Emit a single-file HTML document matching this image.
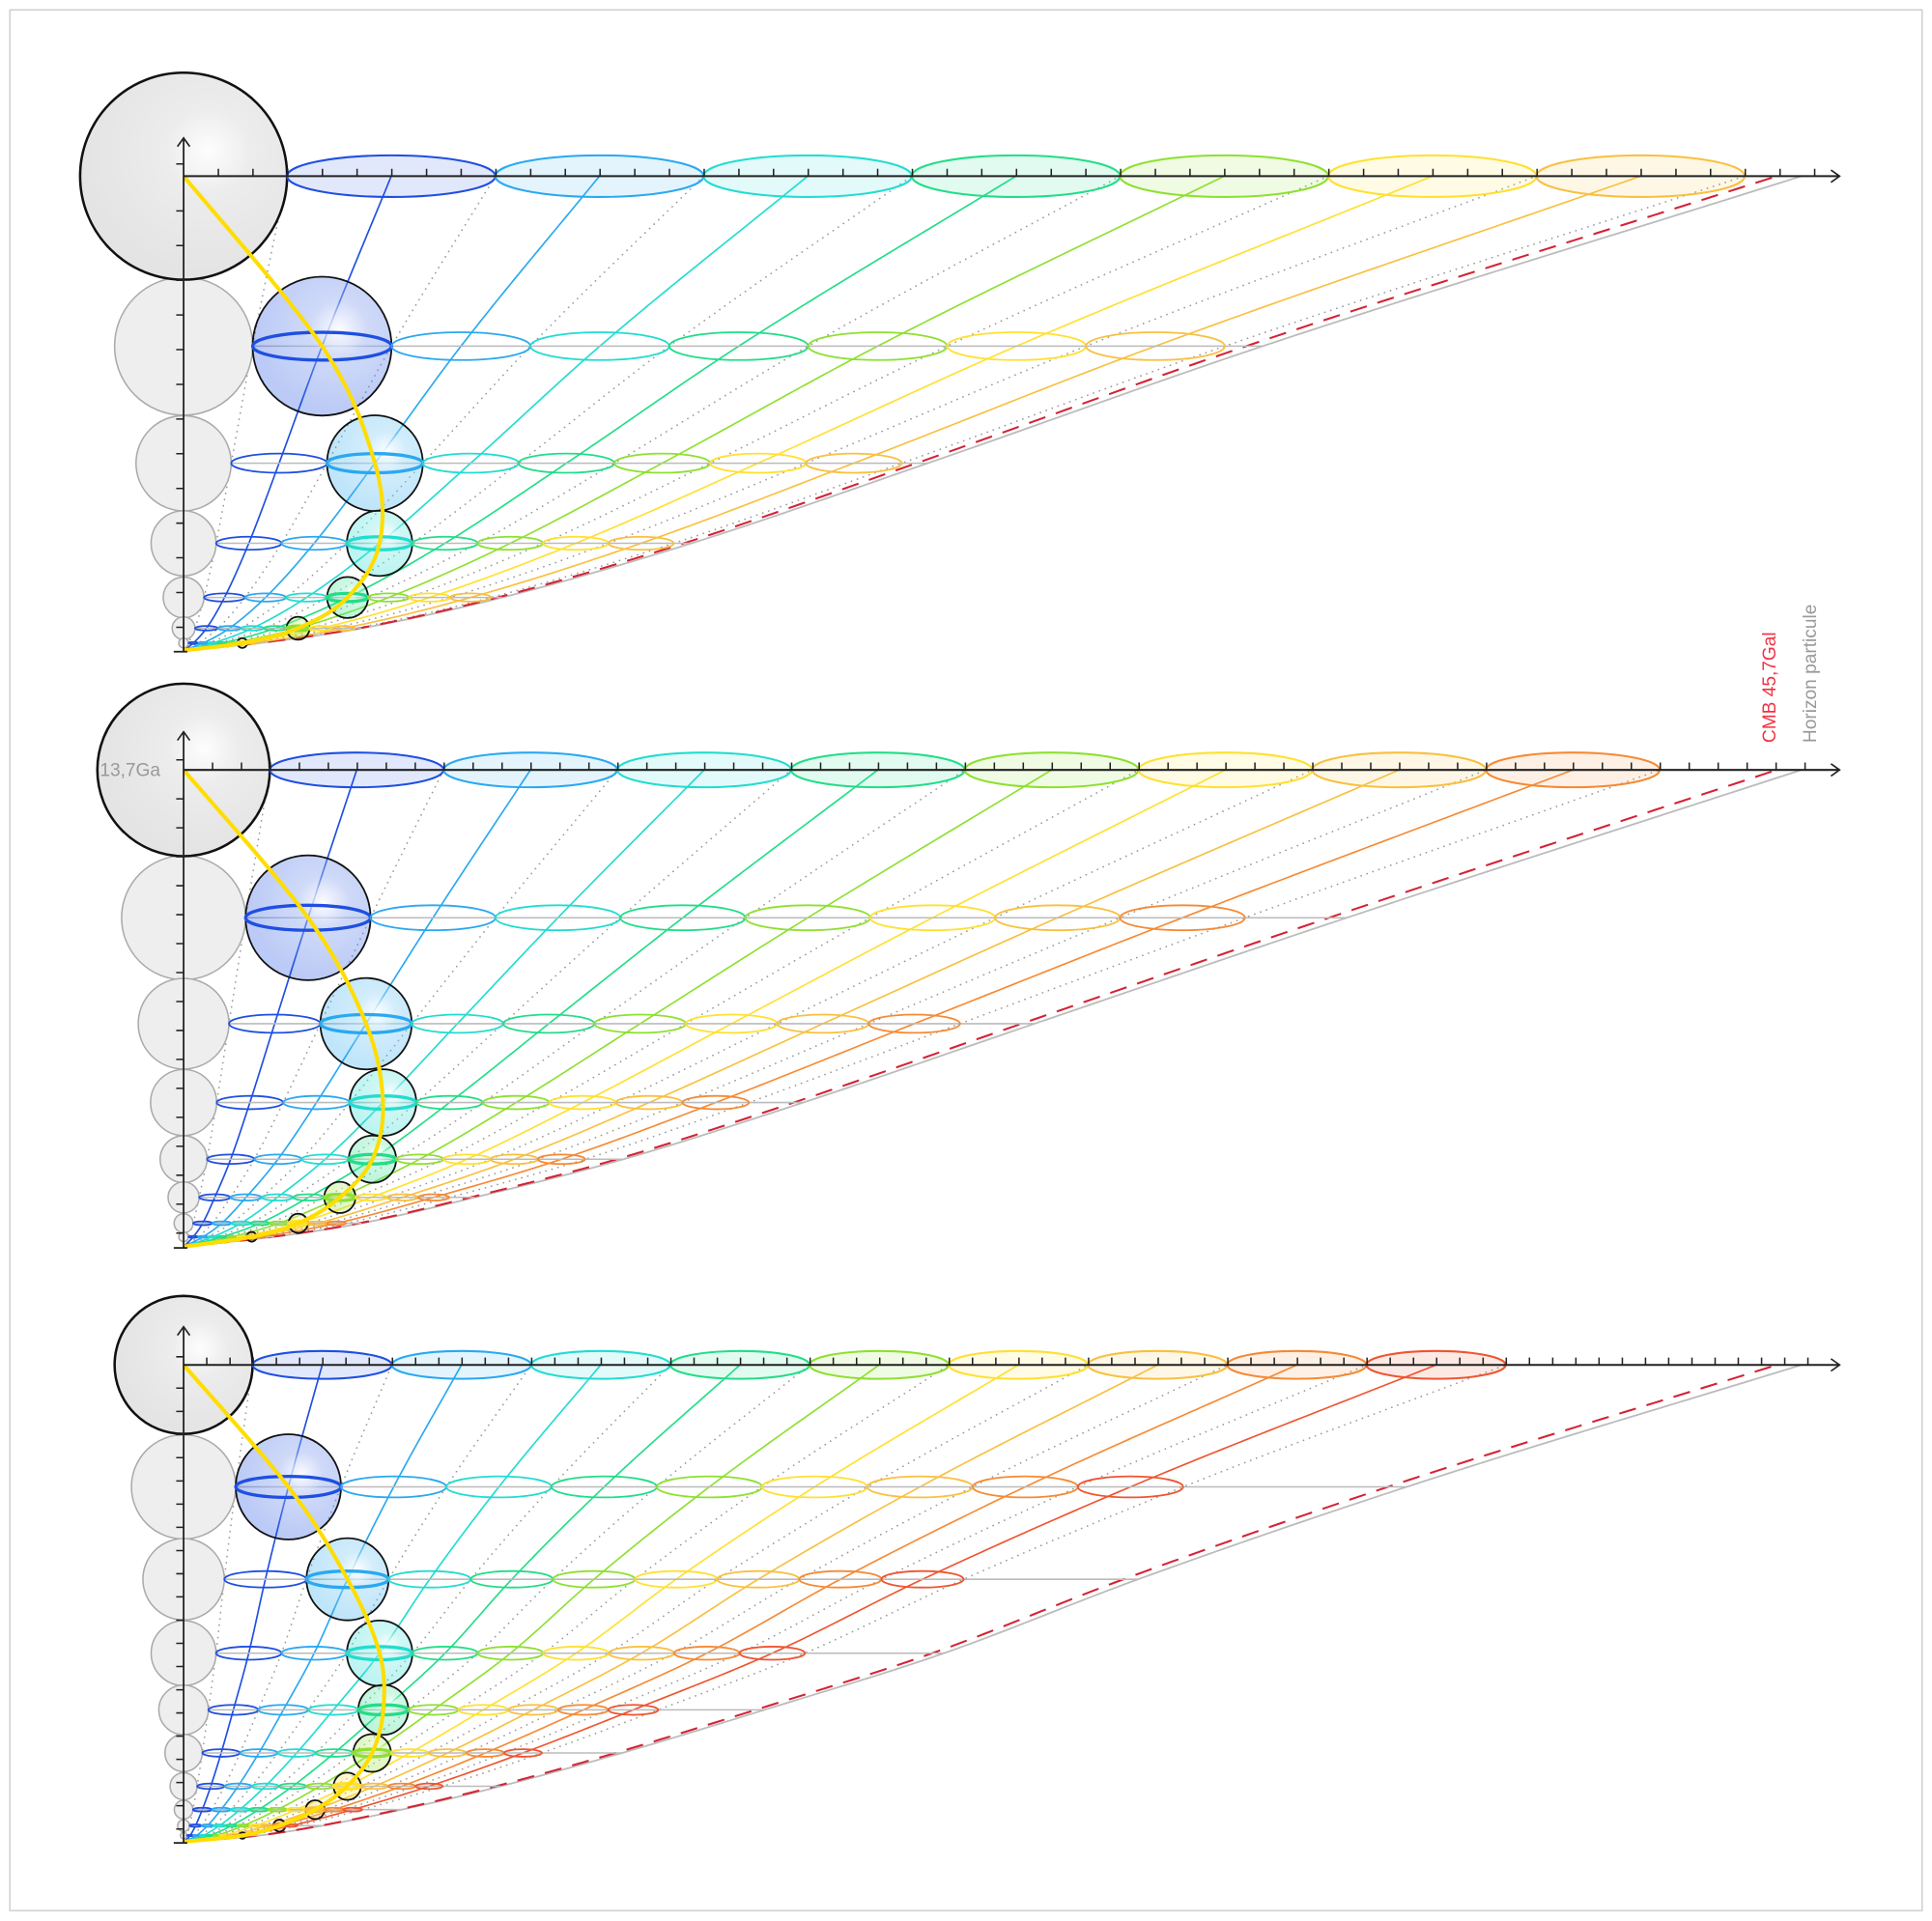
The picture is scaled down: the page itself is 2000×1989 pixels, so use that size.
<!DOCTYPE html>
<html><head><meta charset="utf-8">
<style>html,body{margin:0;padding:0;background:#fff;}svg{display:block;}</style>
</head><body>
<svg id="s" xmlns="http://www.w3.org/2000/svg" width="2000" height="1989" viewBox="0 0 1568 1559.4">
<defs>
<radialGradient id="hl" cx="0.62" cy="0.38" r="0.6">
<stop offset="0" stop-color="#fff" stop-opacity="0.95"/>
<stop offset="0.35" stop-color="#fff" stop-opacity="0.3"/>
<stop offset="1" stop-color="#fff" stop-opacity="0"/>
</radialGradient>
</defs>
<rect x="8" y="8" width="1552" height="1543" fill="#fff" stroke="#d0d0d0" stroke-width="1.2"/>
<g id="g"></g>
<text transform="translate(1441,603) rotate(-90)" font-family="Liberation Sans, sans-serif" font-size="15" fill="#ee3344">CMB  45,7Gal</text>
<text transform="translate(1474,603) rotate(-90)" font-family="Liberation Sans, sans-serif" font-size="15" fill="#999">Horizon particule</text>
</svg>
<script>
var pal=["#1f4fe0","#2aa8f0","#22dcd0","#22dd88","#8ee030","#ffe030","#f8c040","#f58a35","#ee5530"];
var panels=[
 {y0:143,y1:528,R0:84,W:169,N:7,rows:[[0.667,281],[0.46,376],[0.314,441],[0.197,485],[0.11,510],[0.047,522]]},
 {y0:625,y1:1012,R0:70,W:141,N:8,rows:[[0.719,745],[0.526,831],[0.383,895],[0.272,941],[0.18,972],[0.11,993],[0.056,1004]]},
 {y0:1108,y1:1495,R0:56,W:113,N:9,rows:[[0.756,1207],[0.59,1282],[0.47,1342],[0.359,1388],[0.271,1423],[0.196,1450],[0.135,1469],[0.086,1482],[0.047,1490]]}
];
var X0=149,D=1313,Dc=1293;
var out=[];
function mono(xs,ys){var n=xs.length,d=[],m=[];for(var i=0;i<n-1;i++)d.push((ys[i+1]-ys[i])/(xs[i+1]-xs[i]));
m[0]=d[0];m[n-1]=d[n-2];for(i=1;i<n-1;i++){m[i]=(d[i-1]*d[i]<=0)?0:(d[i-1]+d[i])/2;}
for(i=0;i<n-1;i++){if(d[i]==0){m[i]=m[i+1]=0;continue;}var a=m[i]/d[i],b=m[i+1]/d[i],h=a*a+b*b;if(h>9){var t=3/Math.sqrt(h);m[i]=t*a*d[i];m[i+1]=t*b*d[i];}}
return function(x){var i=0;while(i<n-2&&x>xs[i+1])i++;var h=xs[i+1]-xs[i],t=(x-xs[i])/h,t2=t*t,t3=t2*t;
return (2*t3-3*t2+1)*ys[i]+(t3-2*t2+t)*h*m[i]+(-2*t3+3*t2)*ys[i+1]+(t3-t2)*h*m[i+1];};}
function path(pts){return "M"+pts.map(function(p){return p[0].toFixed(2)+","+p[1].toFixed(2)}).join("L");}
panels.forEach(function(P,pi){
 var ks=[[0,P.y1]].concat(P.rows.slice().reverse()).concat([[1,P.y0]]);
 var Y=mono(ks.map(function(k){return k[0]}),ks.map(function(k){return k[1]}));
 var A=[];for(var i=0;i<=200;i++){var u=i/200;A.push(u*u*0.3+u*0.7);}
 function curve(c){return path(A.map(function(a){return [X0+a*c,Y(a)]}));}
 for(var j=0;j<=P.N;j++){out.push('<path d="'+curve(P.R0+P.W*j)+'" fill="none" stroke="#999" stroke-width="1.3" stroke-dasharray="0.1 5" stroke-linecap="round"/>');}
 out.push('<path d="'+curve(D)+'" fill="none" stroke="#bbb" stroke-width="1.4"/>');
 out.push('<path d="'+curve(Dc)+'" fill="none" stroke="#d42233" stroke-width="1.6" stroke-dasharray="14 9"/>');
 for(j=0;j<P.N;j++){out.push('<path d="'+curve(P.R0+P.W*(j+0.5))+'" fill="none" stroke="'+pal[j]+'" stroke-width="1.3"/>');}
 P.rows.forEach(function(r,k){var a=r[0],y=r[1],rx=a*P.W/2,ry=rx*0.2;
  out.push('<line x1="'+X0+'" y1="'+y+'" x2="'+(X0+a*D)+'" y2="'+y+'" stroke="#bbb" stroke-width="1.2"/>');
  out.push('<circle cx="'+X0+'" cy="'+y+'" r="'+(a*P.R0)+'" fill="#eee" stroke="#aaa" stroke-width="1.2"/>');
  for(var j=0;j<P.N;j++){var cx=X0+a*(P.R0+P.W*(j+0.5));
   if(j==k){out.push('<circle cx="'+cx+'" cy="'+y+'" r="'+rx+'" fill="'+pal[j]+'" fill-opacity="0.3" stroke="none"/>');
    out.push('<circle cx="'+cx+'" cy="'+y+'" r="'+rx+'" fill="url(#hl)" stroke="#111" stroke-width="1.4"/>');
    out.push('<ellipse cx="'+cx+'" cy="'+y+'" rx="'+rx+'" ry="'+ry+'" fill="none" stroke="'+pal[j]+'" stroke-width="2.6"/>');}
   else out.push('<ellipse cx="'+cx+'" cy="'+y+'" rx="'+rx+'" ry="'+ry+'" fill="none" stroke="'+pal[j]+'" stroke-width="1.4"/>');}
 });
 var y0=P.y0;
 out.push('<circle cx="'+X0+'" cy="'+y0+'" r="'+P.R0+'" fill="#e4e4e4"/>');
 out.push('<circle cx="'+X0+'" cy="'+y0+'" r="'+P.R0+'" fill="url(#hl)" stroke="#111" stroke-width="2"/>');
 for(j=0;j<P.N;j++){var cx=X0+P.R0+P.W*(j+0.5);
  out.push('<ellipse cx="'+cx+'" cy="'+y0+'" rx="'+(P.W/2)+'" ry="'+(P.W*0.1)+'" fill="'+pal[j]+'" fill-opacity="0.13" stroke="'+pal[j]+'" stroke-width="1.6"/>');}
 var yp=[[X0,P.y1]];var rr=P.rows.slice().reverse();var n=P.rows.length;
 rr.forEach(function(r,ii){var k=n-1-ii;yp.push([X0+r[0]*(P.R0+P.W*(k+0.5)),r[1]]);});
 yp.push([X0,y0]);
 var d="M"+yp[0][0]+","+yp[0][1];
 for(i=0;i<yp.length-1;i++){var p0=yp[Math.max(0,i-1)],p1=yp[i],p2=yp[i+1],p3=yp[Math.min(yp.length-1,i+2)];
  d+="C"+(p1[0]+(p2[0]-p0[0])/6).toFixed(2)+","+(p1[1]+(p2[1]-p0[1])/6).toFixed(2)+" "+(p2[0]-(p3[0]-p1[0])/6).toFixed(2)+","+(p2[1]-(p3[1]-p1[1])/6).toFixed(2)+" "+p2[0].toFixed(2)+","+p2[1].toFixed(2);}
 out.push('<path d="'+d+'" fill="none" stroke="#ffdd00" stroke-width="3.2"/>');
 var T=P.W/6;
 out.push('<line x1="'+X0+'" y1="'+(P.y1+1)+'" x2="'+X0+'" y2="'+(y0-31)+'" stroke="#222" stroke-width="1.4"/>');
 out.push('<path d="M'+(X0-5)+','+(y0-24)+'L'+X0+','+(y0-31)+'L'+(X0+5)+','+(y0-24)+'" fill="none" stroke="#222" stroke-width="1.3"/>');
 out.push('<line x1="'+X0+'" y1="'+y0+'" x2="1493" y2="'+y0+'" stroke="#222" stroke-width="1.6"/>');
 out.push('<path d="M1486,'+(y0-5)+'L1493,'+y0+'L1486,'+(y0+5)+'" fill="none" stroke="#222" stroke-width="1.3"/>');
 out.push('<line x1="'+(X0-8)+'" y1="'+(P.y1+1)+'" x2="'+(X0+3)+'" y2="'+(P.y1+1)+'" stroke="#222" stroke-width="1.4"/>');
 var tk="";
 for(var x=X0+T;x<1475;x+=T)tk+="M"+x.toFixed(1)+","+y0+"v-6";
 for(var yy=y0+T;yy<P.y1-4;yy+=T)tk+="M"+X0+","+yy.toFixed(1)+"h-6";
 tk+="M"+X0+","+(y0-T*0.35).toFixed(1)+"h-6";
 out.push('<path d="'+tk+'" stroke="#222" stroke-width="1.2" fill="none"/>');
 if(pi==1)out.push('<text x="81" y="'+(y0+5)+'" font-family="Liberation Sans, sans-serif" font-size="15" fill="#999">13,7Ga</text>');
});
document.getElementById("g").innerHTML=out.join("");
</script>
</body></html>
